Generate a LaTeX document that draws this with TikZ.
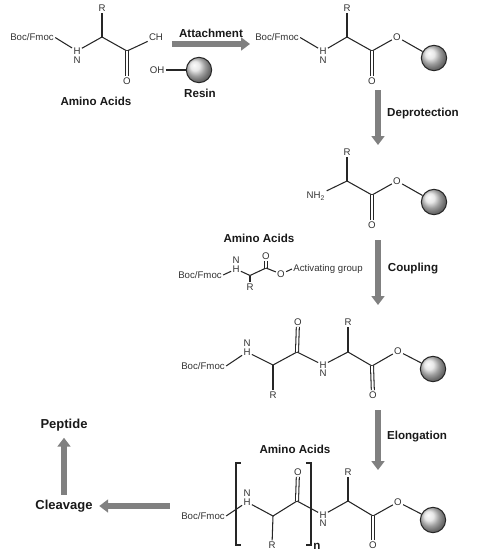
\documentclass[tikz,border=0pt]{standalone}
\usepackage{fontspec}
\setmainfont{Liberation Sans}
\usepackage{xcolor}
\usetikzlibrary{arrows.meta}

\begin{document}
\begin{tikzpicture}[
  x=0.02cm, y=-0.02cm,
  atom/.style={font=\fontsize{5.5pt}{6.8pt}\selectfont, text=black!80, inner sep=0.6pt},
  lab/.style={font=\fontsize{6.6pt}{8pt}\selectfont\bfseries, text=black!90, inner sep=0.6pt},
  biglab/.style={lab, font=\fontsize{7.4pt}{9pt}\selectfont\bfseries},
  bond/.style={line width=0.6pt, black!85},
  dbl/.style={bond, double, double distance=1.1pt},
  bead/.style={circle, draw=black!85, line width=0.6pt, minimum size=14.4pt, inner sep=0pt, shading=ball, ball color=black!12},
  flow/.style={line width=3.6pt, black!50, -{Triangle[length=5pt,width=7.2pt]}},
]
\useasboundingbox (0,0) rectangle (480,556);

% amino acid
\node[atom] (bocA) at (32,37.5) {Boc/Fmoc};
\node[atom] (hA) at (77,51) {H};
\node[atom] (nA) at (77,60) {N};
\node[atom] (rA) at (102,8) {R};
\node[atom] (chA) at (156,37.5) {CH};
\node[atom] (oA) at (127,81) {O};
\coordinate (caA) at (102,37);
\coordinate (coA) at (127,51);
\draw[bond] (bocA.east) -- (hA); \draw[bond] (hA) -- (caA); \draw[bond] (caA) -- (rA);
\draw[bond] (caA) -- (coA); \draw[bond] (coA) -- (chA); \draw[dbl] (coA) -- (oA);
\node[lab] (aaA) at (96,101) {Amino Acids};

% resin
\node[atom] (ohR) at (157,70) {OH};
\node[bead] (beadR) at (199,70) {};
\draw[bond] (ohR) -- (beadR);
\node[lab] (resin) at (200,93) {Resin};

\coordinate (attS) at (172,44);
\coordinate (attE) at (250,44);
\draw[flow] (attS) -- (attE);
\node[lab] (attach) at (211,33) {Attachment};

% attached to resin
\node[atom] (bocB) at (277,37.5) {Boc/Fmoc};
\node[atom] (hB) at (323,51) {H};
\node[atom] (nB) at (323,60) {N};
\node[atom] (rB) at (347,8) {R};
\node[atom] (oB) at (397,37) {O};
\node[atom] (odB) at (372,81) {O};
\node[bead] (beadB) at (434,58) {};
\coordinate (caB) at (347,37);
\coordinate (coB) at (372,51);
\draw[bond] (bocB.east) -- (hB); \draw[bond] (hB) -- (caB); \draw[bond] (caB) -- (rB);
\draw[bond] (caB) -- (coB); \draw[bond] (coB) -- (oB); \draw[bond] (oB) -- (beadB);
\draw[dbl] (coB) -- (odB);

\coordinate (depS) at (378,90);
\coordinate (depE) at (378,145);
\draw[flow] (depS) -- (depE);
\node[lab] (deprot) at (423,113) {Deprotection};

% free amine
\node[atom] (nhC) at (316,196) {NH\textsubscript{2}};
\node[atom] (rC) at (347,152) {R};
\node[atom] (oC) at (397,181) {O};
\node[atom] (odC) at (372,225) {O};
\node[bead] (beadC) at (434,202) {};
\coordinate (caC) at (347,181);
\coordinate (coC) at (372,195);
\draw[bond] (nhC) -- (caC); \draw[bond] (caC) -- (rC); \draw[bond] (caC) -- (coC);
\draw[bond] (coC) -- (oC); \draw[bond] (oC) -- (beadC); \draw[dbl] (coC) -- (odC);

% activated amino acid
\node[lab] (aaD) at (259,238) {Amino Acids};
\node[atom] (bocD) at (200,275) {Boc/Fmoc};
\node[atom] (hD) at (236,269) {H};
\node[atom] (nD) at (236,260) {N};
\node[atom] (rD) at (250,287) {R};
\node[atom] (odD) at (266,256) {O};
\node[atom] (oD) at (281,274) {O};
\node[atom] (actD) at (328,269) {Activating group};
\coordinate (caD) at (250,275.5);
\coordinate (coD) at (266,268);
\draw[bond] (bocD.east) -- (hD); \draw[bond] (hD) -- (caD); \draw[bond] (caD) -- (rD);
\draw[bond] (caD) -- (coD); \draw[dbl] (coD) -- (odD); \draw[bond] (coD) -- (oD);
\draw[bond] (oD) -- (actD.west);

\coordinate (couS) at (378,240);
\coordinate (couE) at (378,305);
\draw[flow] (couS) -- (couE);
\node[lab] (coupling) at (413,269) {Coupling};

% dipeptide
\node[atom] (bocE) at (203,366) {Boc/Fmoc};
\node[atom] (hE) at (247,352) {H};
\node[atom] (nE) at (247,343) {N};
\node[atom] (rE) at (273,395) {R};
\node[atom] (odE) at (298,322) {O};
\node[atom] (hF) at (323,365) {H};
\node[atom] (nF) at (323,373) {N};
\node[atom] (rF) at (348,322) {R};
\node[atom] (oF) at (398,351) {O};
\node[atom] (odF) at (373,395) {O};
\node[bead] (beadF) at (433,369) {};
\coordinate (caE) at (273,365);
\coordinate (coE) at (297,352);
\coordinate (caF) at (348,352);
\coordinate (coF) at (372,366);
\draw[bond] (bocE.east) -- (hE); \draw[bond] (hE) -- (caE); \draw[bond] (caE) -- (rE);
\draw[bond] (caE) -- (coE); \draw[dbl] (coE) -- (odE); \draw[bond] (coE) -- (hF);
\draw[bond] (hF) -- (caF); \draw[bond] (caF) -- (rF); \draw[bond] (caF) -- (coF);
\draw[bond] (coF) -- (oF); \draw[bond] (oF) -- (beadF); \draw[dbl] (coF) -- (odF);

\coordinate (eloS) at (378,410);
\coordinate (eloE) at (378,470);
\draw[flow] (eloS) -- (eloE);
\node[lab] (elong) at (417,437) {Elongation};

% repeated unit
\node[lab] (aaG) at (295,449) {Amino Acids};
\node[atom] (bocG) at (203,516) {Boc/Fmoc};
\node[atom] (hG) at (247,502) {H};
\node[atom] (nG) at (247,493) {N};
\node[atom] (rG) at (272,545) {R};
\node[atom] (odG) at (298,472) {O};
\node[atom] (hH) at (323,515) {H};
\node[atom] (nH) at (323,523) {N};
\node[atom] (rH) at (348,472) {R};
\node[atom] (oH) at (398,502) {O};
\node[atom] (odH) at (373,545) {O};
\node[bead] (beadH) at (433,520) {};
\coordinate (caG) at (273,516);
\coordinate (coG) at (297,501);
\coordinate (caH) at (348,501);
\coordinate (coH) at (373,516);
\draw[bond] (bocG.east) -- (hG); \draw[bond] (hG) -- (caG); \draw[bond] (caG) -- (rG);
\draw[bond] (caG) -- (coG); \draw[dbl] (coG) -- (odG); \draw[bond] (coG) -- (hH);
\draw[bond] (hH) -- (caH); \draw[bond] (caH) -- (rH); \draw[bond] (caH) -- (coH);
\draw[bond] (coH) -- (oH); \draw[bond] (oH) -- (beadH); \draw[dbl] (coH) -- (odH);

% brackets
\coordinate (brLa) at (241,463);
\coordinate (brLb) at (241,545);
\coordinate (brRa) at (306,463);
\coordinate (brRb) at (306,545);
\draw[bond] (brLa) -- ++(-5,0) |- (brLb);
\draw[bond] (brRa) -- ++(5,0) |- (brRb);
\node[lab] (nRep) at (317,546) {n};

% cleavage
\node[biglab] (cleav) at (64,506) {Cleavage};
\node[biglab] (pept) at (64,425) {Peptide};
\coordinate (cleS) at (170,506);
\draw[flow] (cleS) -- ([xshift=3pt]cleav.east);
\draw[flow] (cleav.north) ++(0,-4) -- ([yshift=-3pt]pept.south);
\end{tikzpicture}
\end{document}
